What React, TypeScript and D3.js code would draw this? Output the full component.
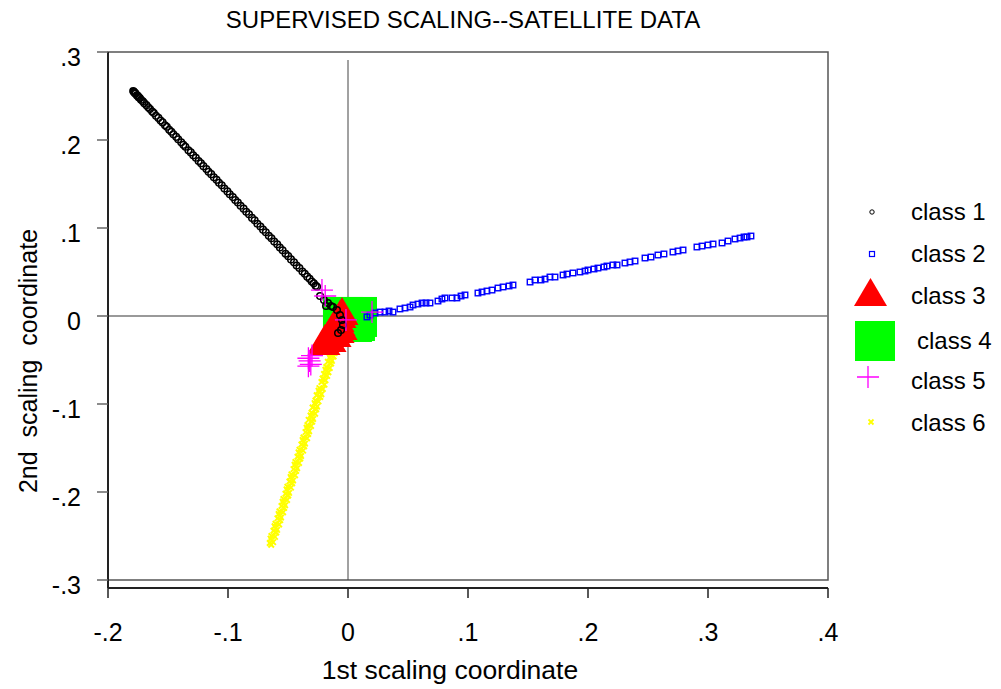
import React from "react";
import * as d3 from "d3";

const xTicks = [-0.2, -0.1, 0, 0.1, 0.2, 0.3, 0.4];
const yTicks = [-0.3, -0.2, -0.1, 0, 0.1, 0.2, 0.3];
const fmt = (v: number) => (Math.abs(v) < 1e-9 ? "0" : (v < 0 ? "-" : "") + "." + Math.round(Math.abs(v) * 10));

const legendLabels = ["class 1", "class 2", "class 3", "class 4", "class 5", "class 6"];

const class1: [number, number][] = [
  [-0.179, 0.2556], [-0.1785, 0.2547], [-0.178, 0.2542], [-0.1775, 0.2530], [-0.177, 0.2527],
  [-0.176, 0.2509], [-0.1752, 0.2501], [-0.1745, 0.2487], [-0.1735, 0.2476], [-0.1725, 0.2458],
  [-0.171, 0.2440], [-0.1698, 0.2419], [-0.168, 0.2396], [-0.1665, 0.2371], [-0.165, 0.2353],
  [-0.1632, 0.2323], [-0.1618, 0.2306], [-0.160, 0.2276], [-0.158, 0.2251], [-0.1562, 0.2221],
  [-0.1545, 0.2200], [-0.1525, 0.2167], [-0.151, 0.2150], [-0.149, 0.2117], [-0.1472, 0.2094],
  [-0.1455, 0.2066], [-0.1432, 0.2036], [-0.1415, 0.2008], [-0.139, 0.1975], [-0.1372, 0.1945],
  [-0.1355, 0.1924], [-0.133, 0.1884], [-0.131, 0.1859], [-0.129, 0.1826], [-0.1268, 0.1798],
  [-0.1245, 0.1761], [-0.1225, 0.1736], [-0.1205, 0.1703], [-0.118, 0.1670], [-0.1162, 0.1640],
  [-0.114, 0.1612], [-0.1118, 0.1576], [-0.1095, 0.1547], [-0.1075, 0.1514], [-0.1052, 0.1485],
  [-0.103, 0.1449], [-0.1005, 0.1416], [-0.0985, 0.1383], [-0.096, 0.1351], [-0.094, 0.1318],
  [-0.0918, 0.1290], [-0.0895, 0.1253], [-0.087, 0.1220], [-0.0848, 0.1184], [-0.0825, 0.1155],
  [-0.080, 0.1115], [-0.0778, 0.1087], [-0.0755, 0.1049], [-0.073, 0.1017], [-0.0708, 0.0981],
  [-0.0685, 0.0952], [-0.066, 0.0911], [-0.0638, 0.0883], [-0.0615, 0.0846], [-0.059, 0.0814],
  [-0.0568, 0.0778], [-0.0545, 0.0748], [-0.052, 0.0708], [-0.0498, 0.0680], [-0.0475, 0.0643],
  [-0.045, 0.0610], [-0.0428, 0.0574], [-0.0405, 0.0545], [-0.038, 0.0505], [-0.036, 0.0480],
  [-0.034, 0.0447], [-0.032, 0.0422], [-0.0302, 0.0391], [-0.0285, 0.0371], [-0.027, 0.0345],
  [-0.0258, 0.0332], [-0.0233, 0.0227], [-0.020, 0.0182], [-0.0183, 0.0114], [-0.0167, 0.0148],
  [-0.0142, 0.0114], [-0.0125, 0.0102], [-0.0092, 0.0068], [-0.0067, 0.0011], [-0.005, -0.0045],
  [-0.0042, -0.0102], [-0.0058, -0.0159], [-0.0083, -0.0193],
];

const class2: [number, number][] = [
  [0.0158, -0.0011], [0.0183, 0.0011], [0.0225, 0.0034], [0.0267, 0.0045], [0.0308, 0.0045],
  [0.0342, 0.0057], [0.0375, 0.0045], [0.0433, 0.0080], [0.0475, 0.0091], [0.0517, 0.0102],
  [0.0542, 0.0125], [0.0583, 0.0136], [0.0617, 0.0148], [0.065, 0.0148], [0.0683, 0.0148],
  [0.075, 0.0170], [0.0783, 0.0193], [0.0808, 0.0205], [0.0867, 0.0205], [0.0908, 0.0205],
  [0.0942, 0.0227], [0.0975, 0.0239], [0.1083, 0.0261], [0.1117, 0.0273], [0.1158, 0.0284],
  [0.120, 0.0295], [0.125, 0.0318], [0.1292, 0.0330], [0.1342, 0.0341], [0.1375, 0.0352],
  [0.1517, 0.0386], [0.1558, 0.0409], [0.1608, 0.0409], [0.1642, 0.0420], [0.1683, 0.0443],
  [0.1725, 0.0443], [0.1792, 0.0466], [0.1825, 0.0477], [0.1875, 0.0489], [0.1933, 0.0500],
  [0.1975, 0.0511], [0.200, 0.0523], [0.205, 0.0534], [0.2083, 0.0545], [0.2133, 0.0557],
  [0.2158, 0.0568], [0.2208, 0.0580], [0.2242, 0.0580], [0.2308, 0.0602], [0.235, 0.0614],
  [0.2392, 0.0625], [0.2475, 0.0659], [0.2525, 0.0670], [0.2583, 0.0693], [0.2633, 0.0705],
  [0.2708, 0.0727], [0.275, 0.0739], [0.2792, 0.0750], [0.2908, 0.0784], [0.295, 0.0795],
  [0.300, 0.0807], [0.3042, 0.0818], [0.3117, 0.0830], [0.3167, 0.0852], [0.3225, 0.0875],
  [0.3267, 0.0886], [0.330, 0.0898], [0.3325, 0.0898], [0.3358, 0.0909],
];

const class3: [number, number][] = [
  [-0.005, 0.0057], [-0.0067, 0.0023], [-0.0083, -0.0023], [-0.0075, -0.0068], [-0.010, -0.0102],
  [-0.0117, -0.0136], [-0.0142, -0.0159], [-0.0158, -0.0193], [-0.0175, -0.0227], [-0.0192, -0.025],
  [-0.020, -0.0284], [-0.015, -0.025], [-0.0108, -0.0193], [-0.0083, -0.0148], [-0.0058, -0.0114],
];

const class4: [number, number][] = [
  [-0.0042, -0.0011], [0.0075, -0.0011], [0.0033, -0.0068], [0.0, -0.0045], [0.0058, -0.0057],
];

const class5: [number, number][] = [
  [-0.033, -0.048], [-0.032, -0.051], [-0.031, -0.055], [-0.033, -0.057], [-0.030, -0.045],
  [-0.0217, 0.0295], [-0.019, 0.0227], [-0.0017, -0.0045], [0.020, 0.0045],
];

const class6: [number, number][] = [
  [-0.0138, -0.040], [-0.0112, -0.042], [-0.0147, -0.044], [-0.0120, -0.046], [-0.0152, -0.047],
  [-0.0134, -0.051], [-0.0168, -0.052], [-0.0141, -0.054], [-0.0181, -0.058], [-0.0152, -0.059],
  [-0.0188, -0.061], [-0.0163, -0.064], [-0.0200, -0.066], [-0.0174, -0.068], [-0.0212, -0.071],
  [-0.0188, -0.073], [-0.0221, -0.075], [-0.0196, -0.078], [-0.0238, -0.082], [-0.0210, -0.083],
  [-0.0245, -0.085], [-0.0222, -0.089], [-0.0261, -0.090], [-0.0231, -0.092], [-0.0271, -0.096],
  [-0.0246, -0.097], [-0.0278, -0.099], [-0.0258, -0.103], [-0.0295, -0.104], [-0.0265, -0.106],
  [-0.0304, -0.110], [-0.0274, -0.111], [-0.0312, -0.113], [-0.0291, -0.117], [-0.0328, -0.118],
  [-0.0298, -0.120], [-0.0338, -0.124], [-0.0308, -0.125], [-0.0345, -0.127], [-0.0324, -0.131],
  [-0.0354, -0.132], [-0.0332, -0.134], [-0.0371, -0.138], [-0.0341, -0.139], [-0.0378, -0.141],
  [-0.0358, -0.145], [-0.0388, -0.146], [-0.0365, -0.148], [-0.0404, -0.152], [-0.0374, -0.153],
  [-0.0412, -0.155], [-0.0391, -0.159], [-0.0421, -0.160], [-0.0398, -0.162], [-0.0438, -0.166],
  [-0.0408, -0.167], [-0.0445, -0.169], [-0.0424, -0.173], [-0.0454, -0.174], [-0.0432, -0.176],
  [-0.0471, -0.180], [-0.0441, -0.181], [-0.0478, -0.183], [-0.0458, -0.187], [-0.0488, -0.188],
  [-0.0465, -0.190], [-0.0505, -0.194], [-0.0475, -0.195], [-0.0512, -0.197], [-0.0491, -0.201],
  [-0.0521, -0.202], [-0.0498, -0.204], [-0.0538, -0.208], [-0.0508, -0.209], [-0.0545, -0.211],
  [-0.0524, -0.215], [-0.0554, -0.216], [-0.0532, -0.218], [-0.0571, -0.222], [-0.0541, -0.223],
  [-0.0578, -0.225], [-0.0558, -0.229], [-0.0588, -0.230], [-0.0565, -0.232], [-0.0604, -0.236],
  [-0.0574, -0.237], [-0.0612, -0.239], [-0.0591, -0.243], [-0.0621, -0.244], [-0.0598, -0.246],
  [-0.0638, -0.250], [-0.0608, -0.251], [-0.0645, -0.253], [-0.0624, -0.257], [-0.0652, -0.258],
  [-0.0640, -0.260],
];

const FONT = "'Liberation Sans', Arial, Helvetica, sans-serif";

const triPath = (cx: number, cy: number, w: number, h: number) =>
  `M${cx},${cy - h / 2}L${cx + w / 2},${cy + h / 2}L${cx - w / 2},${cy + h / 2}Z`;
const plusPath = (cx: number, cy: number, s: number) =>
  `M${cx - s / 2},${cy}H${cx + s / 2}M${cx},${cy - s / 2}V${cy + s / 2}`;
const xPath = (cx: number, cy: number, s: number) =>
  `M${cx - s / 2},${cy - s / 2}L${cx + s / 2},${cy + s / 2}M${cx + s / 2},${cy - s / 2}L${cx - s / 2},${cy + s / 2}`;

export default function App() {
  const x = d3.scaleLinear().domain([-0.2, 0.4]).range([108, 828]);
  const y = d3.scaleLinear().domain([-0.3, 0.3]).range([580, 52]);

  const legendY = [212, 254, 296, 341, 381, 423];

  return (
    <svg width={1001} height={689} style={{ position: "absolute", left: 0, top: 0, background: "#fff" }}>
      <rect x={0} y={0} width={1001} height={689} fill="#fff" />
      <text x={463} y={28} textAnchor="middle" fontFamily={FONT} fontSize={24} fill="#000">
        SUPERVISED SCALING--SATELLITE DATA
      </text>

      {/* frame */}
      <rect x={x(-0.2)} y={y(0.3)} width={x(0.4) - x(-0.2)} height={y(-0.3) - y(0.3)} fill="none" stroke="#555" strokeWidth={1.5} />
      {/* zero lines */}
      <line x1={x(0)} x2={x(0)} y1={60} y2={y(-0.3)} stroke="#444" strokeWidth={1} />
      <line x1={x(-0.2)} x2={x(0.4)} y1={y(0)} y2={y(0)} stroke="#777" strokeWidth={1.5} />

      {/* y axis */}
      <line x1={108} x2={108} y1={y(0.3)} y2={588} stroke="#222" strokeWidth={2} />
      {yTicks.map((t) => (
        <g key={"y" + t}>
          <line x1={97} x2={108} y1={y(t)} y2={y(t)} stroke="#666" strokeWidth={1.5} />
          <text x={81} y={y(t) + 14} textAnchor="end" fontFamily={FONT} fontSize={25} fill="#000">
            {fmt(t)}
          </text>
        </g>
      ))}
      {/* x axis */}
      <line x1={x(-0.2)} x2={x(0.4)} y1={588} y2={588} stroke="#222" strokeWidth={2} />
      {xTicks.map((t) => (
        <g key={"x" + t}>
          <line x1={x(t)} x2={x(t)} y1={588} y2={598} stroke="#222" strokeWidth={1.5} />
          <text x={x(t)} y={641} textAnchor="middle" fontFamily={FONT} fontSize={25} fill="#000">
            {fmt(t)}
          </text>
        </g>
      ))}
      <text x={450} y={679} textAnchor="middle" fontFamily={FONT} fontSize={26.5} fill="#000">
        1st scaling coordinate
      </text>
      <text
        transform={`translate(37,361) rotate(-90)`}
        textAnchor="middle"
        fontFamily={FONT}
        fontSize={25}
        fill="#000"
        style={{ whiteSpace: "pre" }}
      >
        {"2nd  scaling  coordinate"}
      </text>

      {/* data */}
      <g>
        {class4.map((d, i) => (
          <rect key={"c4" + i} x={x(d[0]) - 20} y={y(d[1]) - 20} width={40} height={40} fill="#00ff00" />
        ))}
        {class6.map((d, i) => (
          <path key={"c6" + i} d={xPath(x(d[0]), y(d[1]), 5.5)} stroke="#ffff00" strokeWidth={2} fill="none" />
        ))}
        {class3.map((d, i) => (
          <path key={"c3" + i} d={triPath(x(d[0]), y(d[1]), 33, 28)} fill="#ff0000" />
        ))}
        {class2.map((d, i) => (
          <rect key={"c2" + i} x={x(d[0]) - 2.75} y={y(d[1]) - 2.75} width={5.5} height={5.5} fill="none" stroke="#0000ff" strokeWidth={1.4} />
        ))}
        {class1.map((d, i) => (
          <circle key={"c1" + i} cx={x(d[0])} cy={y(d[1])} r={3.3} fill="none" stroke="#000" strokeWidth={1.5} />
        ))}
        {class5.map((d, i) => (
          <path key={"c5" + i} d={plusPath(x(d[0]), y(d[1]), 22)} stroke="#ff00ff" strokeWidth={1.3} fill="none" />
        ))}
      </g>

      {/* legend */}
      <circle cx={872} cy={legendY[0]} r={2.2} fill="none" stroke="#000" strokeWidth={1} />
      <rect x={869.5} y={legendY[1] - 2.5} width={5} height={5} fill="none" stroke="#0000ff" strokeWidth={1.2} />
      <path d={triPath(870.5, legendY[2] - 4, 33, 28)} fill="#ff0000" />
      <rect x={855} y={legendY[3] - 20} width={40} height={40} fill="#00ff00" />
      <path d={plusPath(868, legendY[4] - 4, 22)} stroke="#ff00ff" strokeWidth={1.3} fill="none" />
      <path d={xPath(871, legendY[5] - 1, 5)} stroke="#ffff00" strokeWidth={1.8} fill="none" />
      {legendLabels.map((l, i) => (
        <text key={l} x={i === 3 ? 917 : 911} y={legendY[i] + 8} fontFamily={FONT} fontSize={24} fill="#000">
          {l}
        </text>
      ))}
    </svg>
  );
}
